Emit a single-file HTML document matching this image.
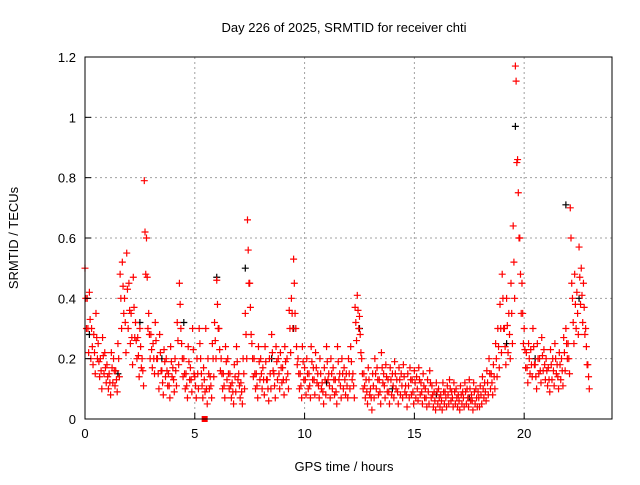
<!DOCTYPE html>
<html><head><meta charset="utf-8"><style>
body{margin:0;background:#fff;}
svg text{font-family:"Liberation Sans",sans-serif;font-size:13px;fill:#000;}
</style></head><body>
<svg id="c" width="640" height="480">
<rect width="640" height="480" fill="#fff"/>
<g id="grid"></g><g id="pts"></g><g id="axes"></g>
<text x="344" y="32" text-anchor="middle">Day 226 of 2025, SRMTID for receiver chti</text>
<text x="344" y="471" text-anchor="middle">GPS time / hours</text>
<text transform="translate(18,238) rotate(-90)" text-anchor="middle">SRMTID / TECUs</text>
</svg>
<script>
const xTicks=[0,5,10,15,20];
const yTicks=[0,0.2,0.4,0.6,0.8,1,1.2];
const yTickLabels=["0","0.2","0.4","0.6","0.8","1","1.2"];
const sampleStepHours=0.1;
const redHigh=[0.5,0.4,0.42,0.3,0.28,0.35,0.25,0.2,0.27,0.22,
0.18,0.15,0.22,0.2,0.16,0.25,0.48,0.52,0.4,0.55,0.45,0.35,0.47,
0.32,0.27,0.3,0.2,0.79,0.6,0.35,0.28,
0.25,0.32,0.2,0.28,0.16,0.23,0.2,0.15,0.24,0.17,
0.2,0.32,0.45,0.25,0.2,0.15,0.24,0.17,0.3,0.14,
0.2,0.3,0.15,0.17,0.3,0.2,0.14,0.25,0.32,0.46,
0.3,0.2,0.15,0.24,0.2,0.15,0.12,0.18,0.24,0.15,
0.12,0.2,0.35,0.66,0.45,0.25,0.2,0.15,0.24,0.2,
0.17,0.24,0.13,0.2,0.28,0.15,0.24,0.2,0.22,0.17,
0.24,0.2,0.36,0.4,0.53,0.3,0.2,0.15,0.24,0.17,
0.2,0.15,0.24,0.17,0.22,0.15,0.2,0.12,0.17,0.24,
0.15,0.2,0.17,0.13,0.24,0.15,0.2,0.17,0.15,0.2,
0.24,0.15,0.37,0.41,0.34,0.2,0.15,0.13,0.17,0.1,
0.15,0.2,0.17,0.13,0.22,0.15,0.18,0.13,0.17,0.15,
0.19,0.13,0.17,0.15,0.18,0.11,0.15,0.17,0.13,0.16,
0.14,0.17,0.12,0.15,0.1,0.13,0.16,0.11,0.09,0.12,
0.1,0.08,0.12,0.09,0.11,0.13,0.09,0.12,0.1,0.08,
0.11,0.09,0.12,0.1,0.13,0.08,0.12,0.1,0.09,0.11,
0.14,0.12,0.16,0.2,0.15,0.18,0.25,0.3,0.38,0.48,
0.3,0.4,0.35,0.45,0.64,1.17,0.86,0.6,0.45,0.3,
0.22,0.25,0.23,0.3,0.18,0.25,0.2,0.27,0.23,0.2,
0.17,0.23,0.2,0.25,0.18,0.22,0.2,0.27,0.3,0.25,
0.7,0.4,0.48,0.42,0.57,0.5,0.45,0.3,0.18];
const redMid=[0.4,0.3,0.33,0.24,0.22,0.27,0.19,0.16,0.21,0.17,
0.14,0.12,0.17,0.16,0.13,0.2,0.4,0.44,0.32,0.43,0.36,0.27,0.37,
0.26,0.21,0.24,0.16,0.62,0.47,0.28,0.23,
0.2,0.26,0.15,0.22,0.12,0.19,0.16,0.11,0.19,0.13,
0.16,0.26,0.38,0.2,0.15,0.11,0.19,0.13,0.23,0.11,
0.15,0.25,0.11,0.13,0.1,0.15,0.11,0.2,0.26,0.38,
0.23,0.15,0.11,0.19,0.15,0.11,0.09,0.14,0.19,0.11,
0.09,0.15,0.28,0.56,0.37,0.2,0.15,0.11,0.19,0.15,
0.13,0.19,0.1,0.15,0.22,0.11,0.19,0.15,0.17,0.13,
0.19,0.15,0.3,0.35,0.45,0.24,0.15,0.11,0.19,0.13,
0.15,0.11,0.19,0.13,0.17,0.11,0.15,0.09,0.13,0.19,
0.11,0.15,0.13,0.09,0.19,0.11,0.15,0.13,0.11,0.15,
0.19,0.11,0.32,0.36,0.28,0.15,0.11,0.09,0.13,0.07,
0.11,0.15,0.13,0.09,0.17,0.11,0.14,0.09,0.13,0.11,
0.15,0.09,0.13,0.11,0.14,0.08,0.11,0.13,0.09,0.12,
0.1,0.13,0.09,0.11,0.07,0.09,0.12,0.08,0.06,0.09,
0.07,0.06,0.09,0.07,0.08,0.1,0.07,0.09,0.07,0.06,
0.08,0.07,0.09,0.07,0.1,0.06,0.09,0.07,0.07,0.08,
0.1,0.09,0.12,0.15,0.12,0.14,0.2,0.24,0.3,0.4,
0.24,0.31,0.28,0.35,0.52,1.12,0.75,0.48,0.35,0.23,
0.17,0.2,0.18,0.24,0.14,0.2,0.16,0.21,0.18,0.16,
0.13,0.18,0.16,0.2,0.14,0.18,0.16,0.22,0.25,0.2,
0.6,0.32,0.38,0.35,0.47,0.41,0.37,0.24,0.14];
const redLow=[0.3,0.22,0.2,0.18,0.15,0.2,0.14,0.1,0.15,0.12,
0.1,0.08,0.12,0.11,0.09,0.14,0.3,0.35,0.22,0.3,0.25,0.18,0.27,
0.2,0.14,0.17,0.11,0.48,0.3,0.2,0.17,
0.15,0.2,0.1,0.16,0.08,0.14,0.11,0.07,0.14,0.09,
0.11,0.18,0.3,0.14,0.1,0.07,0.13,0.09,0.15,0.07,
0.1,0.2,0.07,0.09,0.05,0.1,0.07,0.14,0.2,0.3,
0.16,0.1,0.07,0.13,0.1,0.07,0.05,0.09,0.13,0.07,
0.05,0.1,0.2,0.45,0.28,0.14,0.1,0.07,0.13,0.1,
0.08,0.13,0.06,0.1,0.16,0.07,0.13,0.1,0.12,0.08,
0.13,0.1,0.22,0.3,0.35,0.18,0.1,0.07,0.13,0.08,
0.1,0.07,0.13,0.08,0.12,0.07,0.1,0.05,0.08,0.13,
0.07,0.1,0.08,0.05,0.13,0.07,0.1,0.08,0.07,0.1,
0.13,0.07,0.26,0.3,0.22,0.1,0.07,0.05,0.08,0.03,
0.07,0.1,0.08,0.05,0.12,0.07,0.09,0.05,0.08,0.07,
0.1,0.05,0.08,0.07,0.09,0.04,0.07,0.08,0.05,0.07,
0.06,0.08,0.05,0.07,0.04,0.05,0.07,0.04,0.03,0.05,
0.04,0.03,0.05,0.04,0.05,0.06,0.04,0.05,0.04,0.03,
0.05,0.04,0.05,0.04,0.06,0.03,0.05,0.04,0.04,0.05,
0.07,0.06,0.08,0.1,0.08,0.1,0.14,0.17,0.22,0.3,
0.18,0.22,0.2,0.25,0.4,0.85,0.6,0.35,0.25,0.17,
0.12,0.15,0.14,0.18,0.1,0.15,0.12,0.16,0.13,0.11,
0.09,0.13,0.11,0.15,0.1,0.13,0.11,0.16,0.2,0.15,
0.45,0.25,0.3,0.28,0.38,0.32,0.28,0.18,0.1];
const blackTimes=[0.2,1.5,2.5,3.5,4.5,6,7.3,8.5,9.5,11,12.5,14,16,17.5,19.2,19.6,20.5,21.9,22.5];
const blackValues=[0.28,0.15,0.32,0.2,0.32,0.47,0.5,0.2,0.3,0.12,0.3,0.1,0.08,0.07,0.25,0.97,0.2,0.71,0.4];
const x0=85,x1=612,y0=419,y1=57,xMax=24,yMax=1.2;
const X=t=>x0+(x1-x0)*t/xMax, Y=v=>y0-(y0-y1)*v/yMax;
const NS="http://www.w3.org/2000/svg";
function mk(tag,at,par){const e=document.createElementNS(NS,tag);for(const k in at)e.setAttribute(k,at[k]);par.appendChild(e);return e;}
const grid=document.getElementById('grid'),axes=document.getElementById('axes'),pts=document.getElementById('pts');
xTicks.forEach(t=>{
 if(t>0){const g=mk('line',{x1:X(t),x2:X(t),y1:y0,y2:y1,stroke:'#a0a0a0','stroke-dasharray':'2,3'},grid);
 
 }
 const tk=mk('line',{x1:X(t),x2:X(t),y1:y0,y2:y0-6,stroke:'#000'},axes);
 
 
 const tx=mk('text',{x:X(t),y:y0+19,'text-anchor':'middle'},axes);tx.textContent=t;
 
 
});
yTicks.forEach((v,i)=>{
 if(v>0&&v<yMax){const g=mk('line',{x1:x0,x2:x1,y1:Y(v),y2:Y(v),stroke:'#a0a0a0','stroke-dasharray':'2,3'},grid);
 
 }
 const tk=mk('line',{x1:x0,x2:x0+6,y1:Y(v),y2:Y(v),stroke:'#000'},axes);
 
 
 const tx=mk('text',{x:x0-9,y:Y(v)+5,'text-anchor':'end'},axes);tx.textContent=yTickLabels[i];
 
 
});
const fr=mk('rect',{x:x0,y:y1,width:x1-x0,height:y0-y1,fill:'none',stroke:'#000'},axes);


function plus(t,v,col){
 const cx=X(t),cy=Y(v);
 const p=mk('path',{d:`M${cx-3.5},${cy}h7M${cx},${cy-3.5}v7`,stroke:col,'stroke-width':1.2,fill:'none'},pts);
 
 
}
blackTimes.forEach((t,i)=>plus(t,blackValues[i],'#000'));
redHigh.forEach((v,i)=>plus(i*sampleStepHours,v,'#f00'));
redMid.forEach((v,i)=>plus(i*sampleStepHours+0.033,v,'#f00'));
redLow.forEach((v,i)=>plus(i*sampleStepHours+0.066,v,'#f00'));
const sq=mk('rect',{x:X(5.45)-3,y:y0-3,width:6,height:6,fill:'#f00'},pts);


</script>
</body></html>
